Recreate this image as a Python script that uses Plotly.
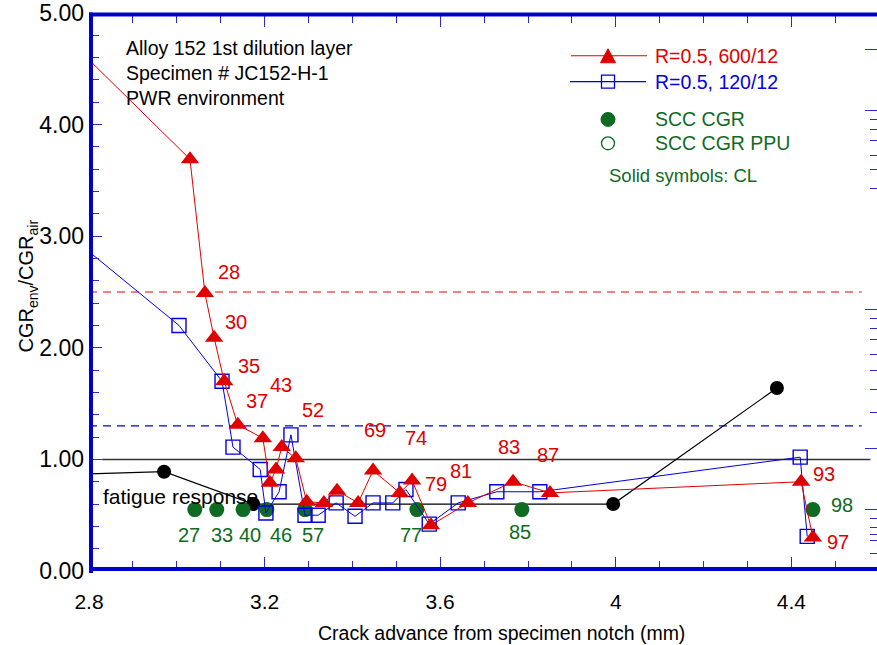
import plotly.graph_objects as go

# ---------------- data ----------------
red_x = [2.72, 3.030, 3.064, 3.085, 3.108, 3.139, 3.196, 3.212, 3.226, 3.239, 3.271, 3.296,
         3.335, 3.365, 3.413, 3.447, 3.508, 3.536, 3.579, 3.663, 3.766, 3.850, 4.422, 4.449]
red_y = [4.89, 3.69, 2.49, 2.09, 1.70, 1.31, 1.19, 0.79, 0.91, 1.11, 1.01, 0.62,
         0.61, 0.72, 0.61, 0.90, 0.70, 0.81, 0.41, 0.61, 0.80, 0.70, 0.80, 0.30]

blue_x = [2.72, 3.005, 3.103, 3.128, 3.190, 3.203, 3.233, 3.260, 3.292, 3.322, 3.363,
          3.406, 3.447, 3.492, 3.522, 3.575, 3.641, 3.729, 3.827, 4.420, 4.436]
blue_y = [3.12, 2.20, 1.70, 1.11, 0.91, 0.52, 0.71, 1.22, 0.50, 0.50, 0.61,
          0.49, 0.61, 0.61, 0.73, 0.42, 0.61, 0.71, 0.71, 1.02, 0.31]

scc_x = [3.041, 3.091, 3.151, 3.205, 3.292, 3.547, 3.786, 4.449]
scc_y = [0.55, 0.55, 0.55, 0.55, 0.55, 0.55, 0.55, 0.55]

fat_x = [2.72, 2.971, 3.174, 3.994, 4.367]
fat_y = [0.86, 0.89, 0.60, 0.60, 1.64]

ref1_x, ref1_y = [2.83, 4.58], [1.0, 1.0]
ref_red_x, ref_red_y = [2.8, 4.56], [2.5, 2.5]
ref_blue_x, ref_blue_y = [2.8, 4.56], [1.3, 1.3]

red_lab = ["28", "30", "35", "37", "43", "52", "69", "74", "79", "81", "83", "87", "93", "97"]
red_lab_x = [3.119, 3.135, 3.164, 3.183, 3.237, 3.310, 3.451, 3.545, 3.590, 3.647, 3.757, 3.846, 4.474, 4.506]
red_lab_y = [2.68, 2.23, 1.84, 1.52, 1.67, 1.44, 1.26, 1.19, 0.78, 0.90, 1.11, 1.04, 0.87, 0.26]

grn_lab = ["27", "33", "40", "46", "57", "77", "85", "98"]
grn_lab_x = [3.028, 3.103, 3.167, 3.237, 3.310, 3.533, 3.782, 4.515]
grn_lab_y = [0.32, 0.32, 0.32, 0.32, 0.32, 0.32, 0.35, 0.59]

x_tickvals = [2.8, 3.2, 3.6, 4.0, 4.4]
x_ticktext = ["2.8", "3.2", "3.6", "4", "4.4"]
y_tickvals = [0, 1, 2, 3, 4, 5]
y_ticktext = ["0.00", "1.00", "2.00", "3.00", "4.00", "5.00"]

right_major = [4.67, 4.13, 2.34, 1.10, 0.55]
right_minor = [4.05, 3.96, 3.86, 3.72, 3.60, 3.43, 2.26, 2.17, 2.07, 1.94, 1.80, 1.63,
               1.42, 0.47, 0.39, 0.33, 0.27, 0.16]

# ---------------- styles ----------------
RED = "#e00000"
BLUE = "#0000e0"
GREEN = "#0f6a22"
AX = "#0000cc"
TICK = "#2a2ad0"
FONT = "Liberation Sans, Arial, sans-serif"

W, H = 877, 645
L, R, T, B = 89, 0, 10, 74
PW, PH = W - L - R, H - T - B


def px(x):
    return (x - L) / PW


def py(y):
    return (H - B - y) / PH


fig = go.Figure()

fig.add_trace(go.Scatter(x=ref_red_x, y=ref_red_y, mode="lines",
                         line=dict(color="#ee5a5a", width=1.6, dash="8px,6px"), hoverinfo="skip"))
fig.add_trace(go.Scatter(x=ref_blue_x, y=ref_blue_y, mode="lines",
                         line=dict(color=BLUE, width=1.4, dash="8px,6px"), hoverinfo="skip"))
fig.add_trace(go.Scatter(x=ref1_x, y=ref1_y, mode="lines",
                         line=dict(color="#333333", width=1.5), hoverinfo="skip"))
fig.add_trace(go.Scatter(x=fat_x, y=fat_y, mode="lines+markers",
                         line=dict(color="black", width=1.2),
                         marker=dict(color="black", size=14)))
fig.add_trace(go.Scatter(x=scc_x, y=scc_y, mode="markers",
                         marker=dict(color=GREEN, size=15)))
fig.add_trace(go.Scatter(x=blue_x, y=blue_y, mode="lines+markers",
                         line=dict(color=BLUE, width=1),
                         marker=dict(symbol="square-open", color=BLUE, size=14,
                                     line=dict(width=1.4, color=BLUE))))
fig.add_trace(go.Scatter(x=red_x, y=red_y, mode="lines+markers",
                         line=dict(color=RED, width=1),
                         marker=dict(symbol="triangle-up", color=RED, size=16)))
fig.add_trace(go.Scatter(x=[3.0], y=[-1.0], yaxis="y2", mode="markers",
                         marker=dict(size=1, opacity=0), showlegend=False, hoverinfo="skip"))

ann = []
for t, x, y in zip(red_lab, red_lab_x, red_lab_y):
    ann.append(dict(x=x, y=y, xref="x", yref="y", text=t, showarrow=False,
                    xanchor="center", yanchor="middle",
                    font=dict(size=20, color=RED, family=FONT)))
for t, x, y in zip(grn_lab, grn_lab_x, grn_lab_y):
    ann.append(dict(x=x, y=y, xref="x", yref="y", text=t, showarrow=False,
                    xanchor="center", yanchor="middle",
                    font=dict(size=20, color=GREEN, family=FONT)))
ann.append(dict(x=2.827, y=0.668, xref="x", yref="y", text="fatigue response", showarrow=False,
                xanchor="left", yanchor="middle", font=dict(size=21, color="black", family=FONT)))

for i, t in enumerate(["Alloy 152 1st dilution layer", "Specimen # JC152-H-1", "PWR environment"]):
    ann.append(dict(x=px(124), y=py(45 + 25 * i), xref="paper", yref="paper", text=t,
                    showarrow=False, xanchor="left", yanchor="middle",
                    font=dict(size=19.5, color="black", family=FONT)))

# legend texts
leg = [("R=0.5, 600/12", RED, 53), ("R=0.5, 120/12", BLUE, 79),
       ("SCC CGR", GREEN, 117), ("SCC CGR PPU", GREEN, 141)]
for t, c, y in leg:
    ann.append(dict(x=px(653), y=py(y), xref="paper", yref="paper", text=t, showarrow=False,
                    xanchor="left", yanchor="middle", font=dict(size=19.5, color=c, family=FONT)))
ann.append(dict(x=px(607), y=py(173), xref="paper", yref="paper", text="Solid symbols: CL",
                showarrow=False, xanchor="left", yanchor="middle",
                font=dict(size=18.5, color=GREEN, family=FONT)))

# axis titles
ann.append(dict(x=px(501), y=py(633), xref="paper", yref="paper",
                text="Crack advance from specimen notch (mm)", showarrow=False,
                xanchor="center", yanchor="middle",
                font=dict(size=19.5, color="black", family=FONT)))
ann.append(dict(x=px(28), y=py(285), xref="paper", yref="paper", textangle=-90,
                text="CGR<sub>env</sub>/CGR<sub>air</sub>", showarrow=False,
                xanchor="center", yanchor="middle",
                font=dict(size=20, color="black", family=FONT)))

shapes = []
# legend samples
shapes.append(dict(type="line", xref="paper", yref="paper", x0=px(571), x1=px(647), y0=py(53), y1=py(53),
                   line=dict(color=RED, width=1.2)))
shapes.append(dict(type="path", xref="paper", yref="paper",
                   path=f"M{px(600.5)},{py(60)} L{px(615.5)},{py(60)} L{px(608)},{py(46)} Z",
                   fillcolor=RED, line=dict(color=RED, width=1)))
shapes.append(dict(type="line", xref="paper", yref="paper", x0=px(570), x1=px(646), y0=py(79), y1=py(79),
                   line=dict(color=BLUE, width=1.2)))
shapes.append(dict(type="rect", xref="paper", yref="paper", x0=px(601.5), x1=px(614.5),
                   y0=py(85.5), y1=py(72.5), line=dict(color=BLUE, width=1.3)))
shapes.append(dict(type="circle", xref="paper", yref="paper", x0=px(601), x1=px(615),
                   y0=py(124), y1=py(110), fillcolor=GREEN, line=dict(color=GREEN, width=1)))
shapes.append(dict(type="circle", xref="paper", yref="paper", x0=px(601.5), x1=px(614.5),
                   y0=py(147.5), y1=py(134.5), line=dict(color=GREEN, width=1.3)))
# frame (drawn inside the plot edge)
shapes.append(dict(type="line", xref="paper", yref="paper", x0=px(91), x1=px(91), y0=py(573), y1=py(9.5),
                   line=dict(color=AX, width=4), layer="above"))
shapes.append(dict(type="line", xref="paper", yref="paper", x0=px(89), x1=1, y0=py(11.5), y1=py(11.5),
                   line=dict(color=AX, width=4), layer="above"))
shapes.append(dict(type="line", xref="paper", yref="paper", x0=px(89), x1=1, y0=py(569), y1=py(569),
                   line=dict(color=AX, width=4), layer="above"))

fig.update_layout(
    width=W, height=H,
    margin=dict(l=L, r=R, t=T, b=B),
    paper_bgcolor="white", plot_bgcolor="white",
    showlegend=False,
    font=dict(family=FONT, color="black"),
    xaxis=dict(range=[2.8, 2.8 + PW / 439.0], tickmode="array", tickvals=x_tickvals, ticktext=x_ticktext,
               ticks="inside", ticklen=14, tickcolor=TICK, tickwidth=1, ticklabelstandoff=16,
               ticklabeloverflow="allow",
               minor=dict(dtick=0.1, tick0=2.8, ticks="inside", ticklen=10, tickcolor=TICK, tickwidth=1),
               mirror="ticks", showline=False, showgrid=False, zeroline=False,
               tickfont=dict(size=21, family=FONT, color="black")),
    yaxis=dict(range=[0, 5.0], tickmode="array", tickvals=y_tickvals, ticktext=y_ticktext,
               ticks="inside", ticklen=13, tickcolor=TICK, tickwidth=1, ticklabelstandoff=4,
               ticklabeloverflow="allow",
               minor=dict(dtick=0.2, tick0=0, ticks="inside", ticklen=10, tickcolor=TICK, tickwidth=1),
               showline=False, showgrid=False, zeroline=False,
               tickfont=dict(size=23, family=FONT, color="black")),
    yaxis2=dict(range=[0, 5], overlaying="y", side="right", tickmode="array", tickvals=right_major,
                ticks="inside", ticklen=12, tickcolor=TICK, tickwidth=1.2, showticklabels=False,
                minor=dict(tickvals=right_minor, ticks="inside", ticklen=7, tickcolor=TICK, tickwidth=1.2),
                showline=False, showgrid=False, zeroline=False),
    annotations=ann,
    shapes=shapes,
)

fig.write_html("out.html")
